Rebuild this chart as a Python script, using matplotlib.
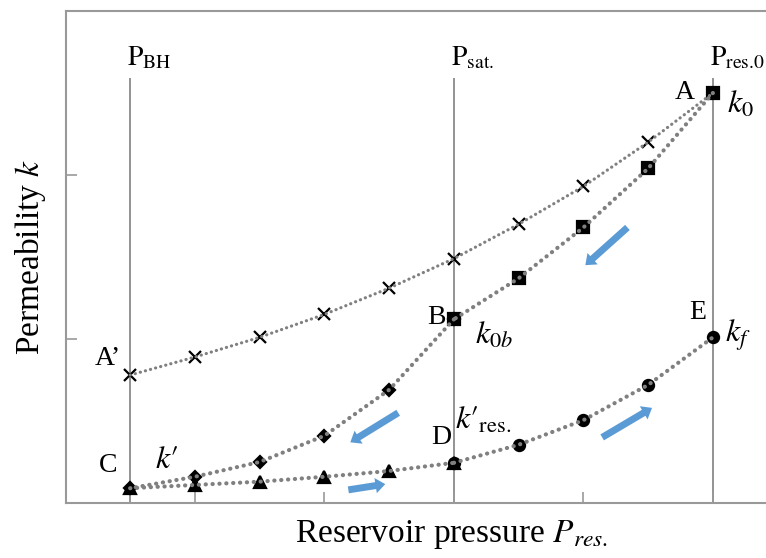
import numpy as np
import matplotlib
matplotlib.use("Agg")
import matplotlib.pyplot as plt

plt.rcParams['font.family'] = ['Liberation Serif', 'DejaVu Serif']
plt.rcParams['mathtext.fontset'] = 'stix'

# pressure positions (arbitrary units, P_BH = 0, P_sat = 5, P_res0 = 9)
p_bh, p_sat, p_res0 = 0, 5, 9

# A' -> A (crosses)
x_cross = [0, 1, 2, 3, 4, 5, 6, 7, 8, 9]
k_cross = [0.78, 0.89, 1.01, 1.15, 1.31, 1.49, 1.70, 1.93, 2.20, 2.50]
# A -> B (squares)
x_sq = [9, 8, 7, 6, 5]
k_sq = [2.50, 2.04, 1.68, 1.37, 1.12]
# B -> C (diamonds)
x_dia = [5, 4, 3, 2, 1, 0]
k_dia = [1.12, 0.69, 0.41, 0.25, 0.16, 0.09]
# C -> D (triangles)
x_tri = [0, 1, 2, 3, 4, 5]
k_tri = [0.09, 0.11, 0.13, 0.16, 0.195, 0.245]
# D -> E (circles)
x_circ = [5, 6, 7, 8, 9]
k_circ = [0.245, 0.355, 0.505, 0.72, 1.01]

# blue direction arrows: (tail, head)
arrows = [((7.68, 1.68), (7.03, 1.45)),
          ((4.14, 0.55), (3.40, 0.37)),
          ((3.37, 0.08), (3.94, 0.115)),
          ((7.29, 0.40), (8.06, 0.58))]

grey = '#808080'
blue = '#5B9BD5'

fig = plt.figure(figsize=(7.66, 5.58), dpi=100)
ax = fig.add_axes([0.0862, 0.0986, 0.9138, 0.8817])
ax.set_xlim(-0.99, 9.82)
ax.set_ylim(0, 3)

for s in ['left', 'bottom', 'top']:
    ax.spines[s].set_color('#999999')
    ax.spines[s].set_linewidth(1.5)
ax.spines['right'].set_visible(False)

ax.set_xticks([1, 3, 5, 7, 9])
ax.set_yticks([1, 2])
ax.tick_params(direction='in', length=8, width=1.2, color='#999999',
               labelbottom=False, labelleft=False)

# reference pressure lines
ax.vlines([p_bh, p_sat, p_res0], 0, 2.59, color=grey, lw=1.2, zorder=1)
for xp, lab in [(p_bh, r'$\mathrm{P}_{\mathrm{BH}}$'),
                (p_sat, r'$\mathrm{P}_{\mathrm{sat.}}$'),
                (p_res0, r'$\mathrm{P}_{\mathrm{res.\!0}}$')]:
    ax.text(xp - 0.05, 2.63, lab, fontsize=20, ha='left', va='bottom')

dot = dict(color=grey, linestyle=(0, (0.05, 1.6)), dash_capstyle='round', zorder=3)

def series(x, k, marker, ms, lw):
    ax.plot(x, k, marker, color='black', ms=ms, mew=1.6, zorder=2, linestyle='none')
    ax.plot(x, k, lw=lw, **dot)

series(x_cross, k_cross, 'x', 9, 2.3)
series(x_sq, k_sq, 's', 8, 3)
series(x_dia, k_dia, 'D', 6.5, 3)
series(x_tri, k_tri, '^', 9, 3)
series(x_circ, k_circ, 'o', 8, 3)

for tail, head in arrows:
    ax.annotate('', xy=head, xytext=tail,
                arrowprops=dict(arrowstyle='simple,head_width=1.1,head_length=0.7,tail_width=0.5',
                                color=blue, lw=0, shrinkA=0, shrinkB=0))

fs = 20
mfs = 23
ax.text(8.72, 2.50, 'A', fontsize=fs, ha='right', va='center')
ax.text(9.22, 2.43, r'$k_0$', fontsize=mfs, ha='left', va='center')
ax.text(-0.34, 0.88, "A\u2019", fontsize=fs, ha='center', va='center')
ax.text(4.88, 1.13, 'B', fontsize=fs, ha='right', va='center')
ax.text(5.33, 1.02, r'$k_{0b}$', fontsize=mfs, ha='left', va='center')
ax.text(-0.34, 0.23, 'C', fontsize=fs, ha='center', va='center')
ax.text(0.38, 0.26, "$k\u2032$", fontsize=mfs, ha='left', va='center')
ax.text(4.96, 0.40, 'D', fontsize=fs, ha='right', va='center')
ax.text(5.02, 0.50, "$k\u2032_{\\mathrm{res.}}$", fontsize=mfs, ha='left', va='center')
ax.text(8.77, 1.16, 'E', fontsize=fs, ha='center', va='center')
ax.text(9.18, 1.02, r'$k_f$', fontsize=mfs, ha='left', va='center')

ax.set_xlabel(r'Reservoir pressure $P_{res.}$', fontsize=24)
ax.set_ylabel(r'Permeability $k$', fontsize=24)
ax.xaxis.set_label_coords(0.55, -0.03)
ax.yaxis.set_label_coords(-0.026, 0.5)

fig.savefig('out.png', dpi=100)
